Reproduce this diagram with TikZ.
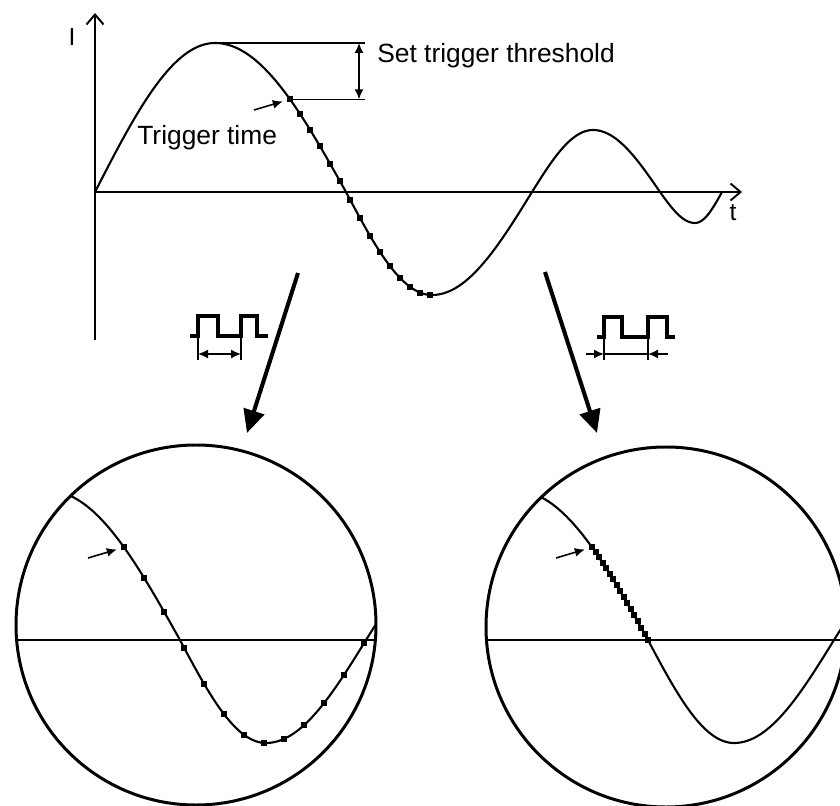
\documentclass[tikz,border=0pt]{standalone}
\usepackage{fontspec}
\setmainfont{Liberation Sans}
\usepackage{tikz}
\usetikzlibrary{arrows.meta, positioning, calc}

\begin{document}
\begin{tikzpicture}[>={Latex[length=0.2cm, width=0.18cm]},
    declare function={wave(\x) = (\x<2.4) ? 2.98*sin(90*\x/2.4) : ((\x<5.02) ? 2.98*cos(90*(\x-2.4)/2.62) : ((\x<6.74) ? -2.06*sin(90*(\x-5.02)/1.72) : ((\x<8.74) ? -2.06*cos(90*(\x-6.74)/2) : ((\x<9.96) ? 1.24*sin(90*(\x-8.74)/1.22) : ((\x<11.3) ? 1.24*cos(90*(\x-9.96)/1.34) : ((\x<12) ? -0.62*sin(90*(\x-11.3)/0.7) : -0.62*cos(90*(\x-12)/0.54)))))));}]
        \tikzstyle{axline} = [line width=1.1pt, -{Straight Barb[length=0.2cm, width=0.34cm]}]
        \tikzstyle{sig} = [line width=1.2pt]
        \tikzstyle{thin} = [line width=0.9pt]
        \tikzstyle{smp} = [rectangle, fill=black, minimum size=0.12cm, inner sep=0pt]
        \tikzstyle{lbl} = [font=\fontsize{15}{18}\selectfont, inner sep=0pt]
        \tikzstyle{lens} = [circle, draw=black, line width=1.7pt, minimum size=7.2cm, inner sep=0pt]
        \tikzstyle{bigarrow} = [line width=2.3pt, -{Triangle[length=0.46cm, width=0.42cm]}]
        \tikzstyle{pulse} = [line width=2.4pt]

        \useasboundingbox (0,0) rectangle (16.8,16.1);
        \clip (0,0) rectangle (16.8,16.1);

        % Signal with trigger threshold
        \begin{scope}[shift={(1.9,12.26)}]
        \draw [axline] (0,-2.96) -- (0,3.58);
        \draw [axline] (0,0) -- (12.94,0);
        \node (ilab) [font=\fontsize{14}{16}\selectfont] at (-0.46,3.1) {I};
        \node (tlab) [font=\fontsize{14}{16}\selectfont] at (12.76,-0.42) {t};
        \draw [sig] plot[domain=0:12.54, samples=300] (\x,{wave(\x)});
        \foreach \k in {0,...,14} { \node (d\k) [smp] at ({3.9+0.2*\k},{wave(3.9+0.2*\k)}) {}; }

        \coordinate (peak) at (2.4,2.98);
        \coordinate (thr1) at (5.4,2.98);
        \coordinate (thr2) at (d0 -| thr1);
        \draw [thin] (peak) -- (thr1); \draw [thin] (d0.center) -- (thr2);
        \draw [thin, <->] ($(thr1)+(-0.12,0)$) -- ($(thr2)+(-0.12,0)$);
        \node (thrlab) [lbl, anchor=base west] at (5.64,2.58) {Set trigger threshold};

        \node (trglab) [lbl, anchor=base west] at (0.84,0.94) {Trigger time};
        \coordinate (tt) at (3.18,1.64);
        \draw [thin, ->, shorten >=0.08cm] (tt) -- (d0);
        \end{scope}

        % Sampling arrows
        \coordinate (la0) at (5.96,10.64); \coordinate (la1) at (4.94,7.44);
        \coordinate (ra0) at (10.9,10.66); \coordinate (ra1) at (11.94,7.44);
        \draw [bigarrow] (la0) -- (la1);
        \draw [bigarrow] (ra0) -- (ra1);

        % Sample clocks
        \draw [pulse] (3.8,9.38) -| (3.96,9.78) -| (4.36,9.38) -| (4.82,9.78) -| (5.14,9.38) -- (5.36,9.38);
        \draw [thin] (3.96,9.38) -- (3.96,8.9); \draw [thin] (4.82,9.38) -- (4.82,8.9);
        \draw [thin, <->] (3.96,9.02) -- (4.82,9.02);

        \draw [pulse] (11.94,9.36) -| (12.08,9.76) -| (12.44,9.36) -| (12.96,9.76) -| (13.34,9.36) -- (13.5,9.36);
        \draw [thin] (12.08,9.36) -- (12.08,8.9); \draw [thin] (12.96,9.36) -- (12.96,8.9);
        \draw [thin] (12.08,9.02) -- (12.96,9.02);
        \draw [thin, ->] (11.72,9.02) -- (12.08,9.02); \draw [thin, ->] (13.36,9.02) -- (12.96,9.02);

        % Zoomed views
        \coordinate (lc) at (3.92,3.6);
        \coordinate (rc) at (13.32,3.56);

        \begin{scope}
        \clip (lc) circle (3.6);
        \draw [sig] (0,3.3) -- (8,3.3);
        \begin{scope}[shift={(-1.42,3.3)}]
        \draw [sig] plot[domain=0:12.54, samples=300] (\x,{wave(\x)});
        \foreach \k in {0,...,12} { \node (l\k) [smp] at ({3.9+0.4*\k},{wave(3.9+0.4*\k)}) {}; }
        \coordinate (ltt) at (3.18,1.64);
        \draw [thin, ->, shorten >=0.08cm] (ltt) -- (l0);
        \end{scope}
        \end{scope}
        \node (lview) [lens] at (lc) {};

        \begin{scope}
        \clip (rc) circle (3.6);
        \draw [sig] (9,3.3) -- (17,3.3);
        \begin{scope}[shift={(7.94,3.3)}]
        \draw [sig] plot[domain=0:12.54, samples=300] (\x,{wave(\x)});
        \foreach \k in {0,...,16} { \node (r\k) [smp] at ({3.9+0.07*\k},{wave(3.9+0.07*\k)}) {}; }
        \coordinate (rtt) at (3.18,1.64);
        \draw [thin, ->, shorten >=0.08cm] (rtt) -- (r0);
        \end{scope}
        \end{scope}
        \node (rview) [lens] at (rc) {};
\end{tikzpicture}
\end{document}
